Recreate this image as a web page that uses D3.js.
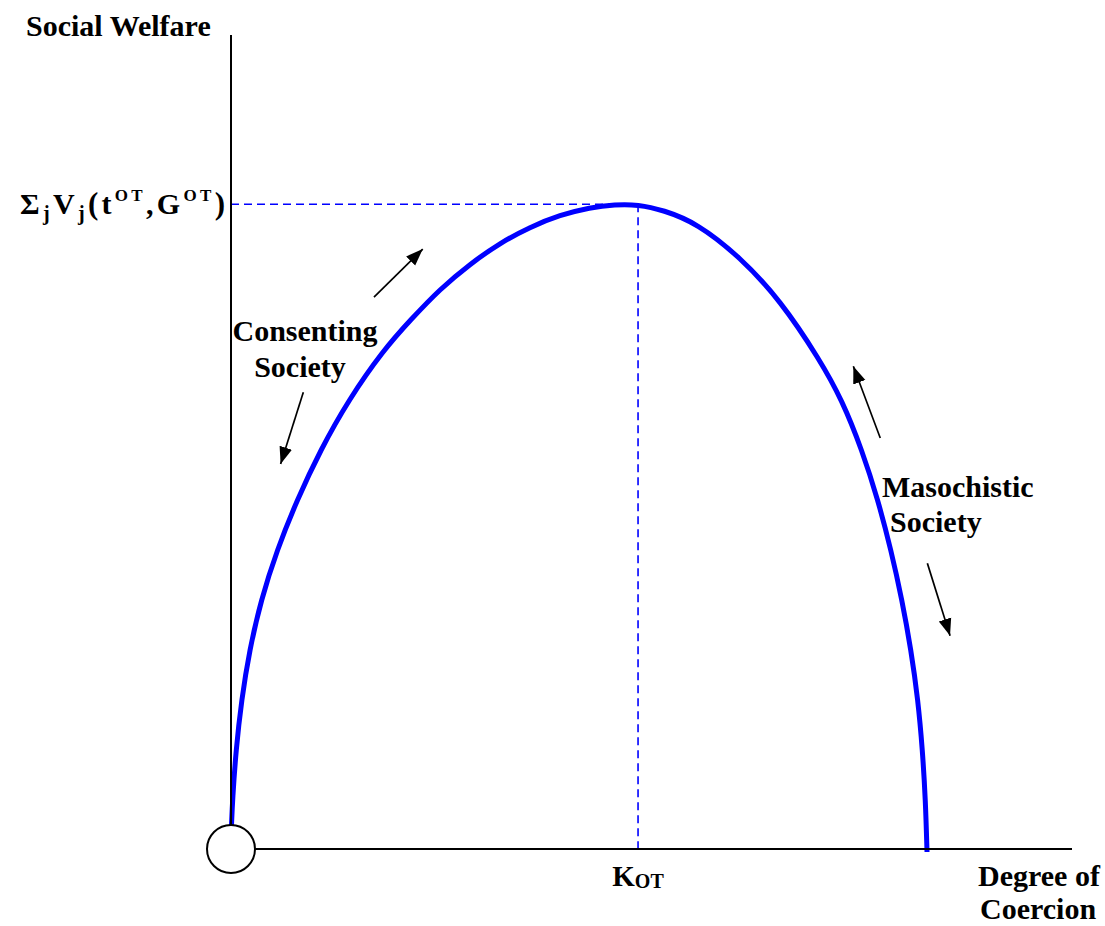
<!DOCTYPE html>
<html>
<head>
<meta charset="utf-8">
<script src="https://cdn.jsdelivr.net/npm/d3@7"></script>
<style>
  body { margin: 0; background: #fff; }
  text { font-family: "Liberation Serif", "Times New Roman", serif; font-weight: bold; fill: #000; }
</style>
</head>
<body>
<div id="chart"></div>
<script>
// welfare curve, abstract units: coercion 0-100, welfare 0-100
const coercion = [0.06, 0.18, 0.59, 1.25, 2.20, 3.57, 5.47, 7.85, 10.64, 13.97, 18.13, 21.34, 24.85, 28.42, 31.99, 35.55, 39.12, 42.69, 45.66, 48.39,
                  51.37, 55.41, 60.52, 65.30, 70.04, 72.65, 75.03, 76.93, 78.48, 79.79, 80.86, 81.69, 82.22, 82.58, 82.76];
const welfare  = [2.95, 6.02, 12.16, 18.30, 24.45, 30.59, 36.73, 42.87, 49.02, 55.16, 61.30, 64.99, 68.80, 71.87, 74.45, 76.41, 77.89, 78.81, 79.18, 79.18,
                  78.50, 76.90, 72.73, 67.44, 60.07, 55.16, 49.02, 42.87, 36.73, 30.59, 24.45, 18.30, 12.16, 6.02, -0.37];

const kOT = 48.4;      // optimal coercion
const wOT = 79.2;      // max welfare

// direction arrows: [x1, y1, x2, y2] tail -> tip
const arrows = [
  [17.0, 67.8, 22.8, 73.7],
  [8.6, 56.1, 5.9, 47.3],
  [77.2, 50.5, 74.0, 59.3],
  [82.8, 35.1, 85.5, 26.2]
];

const width = 1105, height = 926;
const x = d3.scaleLinear().domain([0, 100]).range([231, 1072]);
const y = d3.scaleLinear().domain([0, 100]).range([849, 35]);

const svg = d3.select("#chart").append("svg")
  .attr("width", width).attr("height", height);

svg.append("defs").append("marker")
  .attr("id", "head")
  .attr("viewBox", "0 0 10 10")
  .attr("refX", 10).attr("refY", 5)
  .attr("markerWidth", 10).attr("markerHeight", 10)
  .attr("markerUnits", "strokeWidth")
  .attr("orient", "auto")
  .append("path").attr("d", "M0,1.2 L10,5 L0,8.8 Z").attr("fill", "#000");

// dashed guides
svg.append("line")
  .attr("x1", x(0)).attr("x2", x(kOT))
  .attr("y1", y(wOT)).attr("y2", y(wOT))
  .attr("stroke", "#0000ff").attr("stroke-width", 1.6)
  .attr("stroke-dasharray", "8,5");
svg.append("line")
  .attr("x1", x(kOT)).attr("x2", x(kOT))
  .attr("y1", y(wOT)).attr("y2", y(0))
  .attr("stroke", "#0000ff").attr("stroke-width", 1.6)
  .attr("stroke-dasharray", "8,5");

// welfare curve (B-spline smooths the hand-read points)
const pts = coercion.map((c, i) => [c, welfare[i]]);
svg.append("path")
  .datum(pts)
  .attr("fill", "none")
  .attr("stroke", "#0000ff")
  .attr("stroke-width", 5)
  .attr("d", d3.line().x(d => x(d[0])).y(d => y(d[1])).curve(d3.curveBasis));

// axes
svg.append("line")
  .attr("x1", x(0)).attr("x2", x(0)).attr("y1", y(0)).attr("y2", y(100))
  .attr("stroke", "#000").attr("stroke-width", 2);
svg.append("line")
  .attr("x1", x(0)).attr("x2", x(100)).attr("y1", y(0)).attr("y2", y(0))
  .attr("stroke", "#000").attr("stroke-width", 2);
svg.append("circle")
  .attr("cx", x(0)).attr("cy", y(0)).attr("r", 24)
  .attr("fill", "#fff").attr("stroke", "#000").attr("stroke-width", 2);

// arrows
svg.selectAll(".arr").data(arrows).enter().append("line")
  .attr("class", "arr")
  .attr("x1", d => x(d[0])).attr("y1", d => y(d[1]))
  .attr("x2", d => x(d[2])).attr("y2", d => y(d[3]))
  .attr("stroke", "#000").attr("stroke-width", 1.7)
  .attr("marker-end", "url(#head)");

// labels
const fs = 30;
svg.append("text").attr("x", 26).attr("y", 36).attr("font-size", fs).text("Social Welfare");

const deg = svg.append("text").attr("font-size", fs);
deg.append("tspan").attr("x", 978).attr("y", 886).text("Degree of");
deg.append("tspan").attr("x", 980).attr("y", 919).text("Coercion");

const con = svg.append("text").attr("font-size", fs).attr("text-anchor", "middle");
con.append("tspan").attr("x", 305).attr("y", 341).text("Consenting");
con.append("tspan").attr("x", 300).attr("y", 377).text("Society");

const mas = svg.append("text").attr("font-size", fs);
mas.append("tspan").attr("x", 882).attr("y", 497).text("Masochistic");
mas.append("tspan").attr("x", 890).attr("y", 532).text("Society");

// K_OT
const k = svg.append("text").attr("x", x(kOT)).attr("y", 886).attr("text-anchor", "middle").attr("font-size", 29);
k.append("tspan").text("K");
k.append("tspan").attr("font-size", 20).attr("dy", 2).text("OT");

// Sigma_j V_j(t^OT, G^OT)
const sig = svg.append("text").attr("x", 20).attr("y", 214).attr("font-size", 30)
  .attr("textLength", 205).attr("lengthAdjust", "spacing");
const parts = [
  ["Σ", 30, 0], ["j", 20, 6], ["V", 30, -6], ["j", 20, 6], ["(", 31, -6],
  ["t", 30, 0], ["OT", 17, -13], [",", 30, 13], ["G", 30, 0], ["OT", 17, -13], [")", 31, 13]
];
parts.forEach(p => sig.append("tspan").attr("font-size", p[1]).attr("dy", p[2]).text(p[0]));
</script>
</body>
</html>
